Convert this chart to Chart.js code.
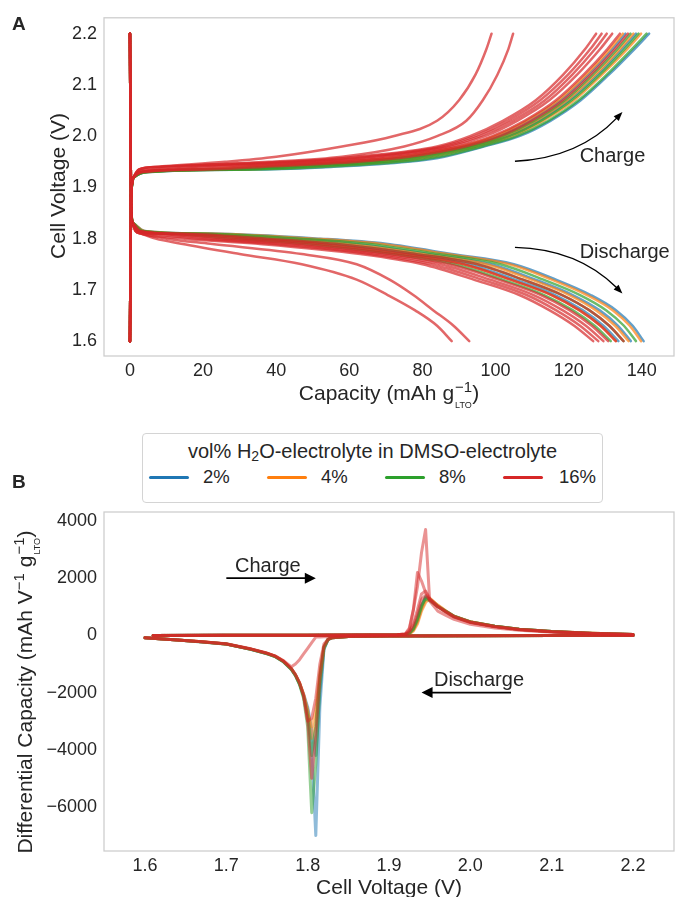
<!DOCTYPE html>
<html><head><meta charset="utf-8">
<script src="https://cdn.jsdelivr.net/npm/chart.js@4.4.1/dist/chart.umd.min.js"></script>
<style>
html,body{margin:0;padding:0;background:#fff;}
body{width:675px;height:897px;position:relative;overflow:hidden;font-family:"Liberation Sans",Arial,sans-serif;color:#262626;}
#wa{position:absolute;left:0;top:0;width:675px;height:460px;}
#wb{position:absolute;left:0;top:460px;width:675px;height:437px;}
#legend{position:absolute;left:142px;top:433px;width:461px;height:70px;border:1px solid #d4d4d4;border-radius:4px;background:#fff;box-sizing:border-box;z-index:3;}
.lt{position:absolute;white-space:nowrap;line-height:1;}
.ll{position:absolute;height:3px;border-radius:1.5px;}
</style></head>
<body>
<div id="wa"><canvas id="ca"></canvas></div>
<div id="wb"><canvas id="cb"></canvas></div>
<div id="legend"></div>
<script>
const FAM = '"Liberation Sans", Arial, sans-serif';
const TXT = '#262626';

const groups = ['2%', '4%', '8%', '16%'];
const colors = ['#1f77b4', '#ff7f0e', '#2ca02c', '#d62728'];
const legendTitle = 'vol% H<sub style="font-size:14px;vertical-align:-3px">2</sub>O-electrolyte in DMSO-electrolyte';

// ---------- Panel A: voltage profiles ----------
const xTicksA = [0, 20, 40, 60, 80, 100, 120, 140];
const yTicksA = [1.6, 1.7, 1.8, 1.9, 2.0, 2.1, 2.2];

const chargeVoltage = [1.60, 1.88, 1.92, 1.93, 1.935, 1.94, 1.95, 1.96, 1.98, 2.00, 2.03, 2.07, 2.12, 2.17, 2.20];
const chargeCap2 = [
  [0, 0.3, 1.2, 5, 35, 55, 76, 86, 97, 106.5, 115, 123.3, 131, 138, 142],
  [0, 0.3, 1.2, 4.2, 27, 43, 67.5, 80, 93.8, 103.2, 111.8, 120.2, 127.9, 134.6, 138.4],
  [0, 0.3, 1.1, 3.6, 20.4, 33.9, 60.7, 75.2, 91.2, 100.5, 109.2, 117.8, 125.4, 132, 135.5]
];
const chargeCap4 = [
  [0, 0.3, 1.2, 4.5, 30.1, 48, 70.9, 82.4, 95, 104.5, 113, 121.5, 129.1, 136, 139.8],
  [0, 0.3, 1.1, 4, 25.3, 40.9, 65.8, 78.8, 93.1, 102.5, 111.1, 119.6, 127.3, 134, 137.7],
  [0, 0.3, 1.1, 3.4, 18.8, 31.5, 59, 74, 90.5, 99.8, 108.5, 117.2, 124.8, 131.3, 134.8]
];
const chargeCap8 = [
  [0, 0.3, 1.2, 4.8, 33.4, 52.7, 74.3, 84.8, 96.4, 105.8, 114.4, 122.7, 130.4, 137.3, 141.3],
  [0, 0.3, 1.2, 4.4, 28.5, 45.6, 69.2, 81.2, 94.4, 103.8, 112.4, 120.8, 128.5, 135.3, 139.1],
  [0, 0.3, 1.1, 3.9, 23.6, 38.5, 64.1, 77.6, 92.5, 101.8, 110.5, 119, 126.6, 133.3, 136.9]
];
const chargeCap16 = [
  [0, 0.3, 1.1, 3.7, 22, 36.2, 62.4, 76.4, 91.8, 101.1, 109.8, 118.4, 126, 132.6, 136.2],
  [0, 0.3, 1.1, 3.2, 17.1, 29.2, 57.3, 72.8, 89.9, 99.1, 107.9, 116.5, 124.1, 130.6, 134],
  [0, 0.3, 1.1, 2.8, 12.3, 22.1, 52.2, 69.2, 87.9, 97.1, 105.9, 114.7, 122.3, 128.6, 131.9],
  [0, 0.3, 1.0, 2.4, 9, 17.4, 48.8, 66.8, 86.6, 95.7, 104.6, 113.5, 121, 127.2, 130.4],
  [0, 0.3, 1.0, 2.1, 5.8, 12.7, 45.4, 64.4, 85.3, 94.4, 103.3, 112.2, 119.8, 125.9, 129],
  [0, 0.3, 1.0, 1.8, 2.5, 8, 42, 62, 84, 93, 102, 111, 118.5, 124.5, 127.5],
  [0, 0.3, 1.0, 1.8, 2.5, 7, 26, 40, 58, 72, 84, 90, 94.5, 97.5, 98.9],
  [0, 0.3, 1.0, 1.8, 2.5, 8, 38, 58, 75, 84, 92, 96.5, 100.5, 103.5, 104.8]
];

const dischargeVoltage = [2.20, 1.86, 1.83, 1.815, 1.81, 1.80, 1.79, 1.77, 1.75, 1.72, 1.69, 1.66, 1.63, 1.60];
const dischargeCap2 = [
  [0, 0.3, 1.0, 4, 22, 52, 70, 88, 105, 116.5, 126, 133, 137.5, 140.5],
  [0, 0.3, 0.9, 3.4, 17.3, 42.8, 61.3, 81.8, 98.8, 110.9, 121.1, 128.5, 133.5, 137],
  [0, 0.3, 0.9, 2.8, 12.5, 33.5, 52.5, 75.5, 92.5, 105.3, 116.3, 123.9, 129.5, 133.6]
];
const dischargeCap4 = [
  [0, 0.3, 1.0, 3.9, 21, 50.2, 68.3, 86.8, 103.8, 115.4, 125, 132.1, 136.7, 139.8],
  [0, 0.3, 0.9, 3.3, 16.3, 40.9, 59.5, 80.5, 97.5, 109.8, 120.2, 127.5, 132.7, 136.4],
  [0, 0.3, 0.8, 2.6, 11.6, 31.7, 50.8, 74.3, 91.3, 104.1, 115.3, 123, 128.7, 132.9]
];
const dischargeCap8 = [
  [0, 0.3, 1.0, 3.6, 19.2, 46.5, 64.8, 84.3, 101.3, 113.1, 123.1, 130.3, 135.1, 138.4],
  [0, 0.3, 0.9, 3, 14.4, 37.2, 56, 78, 95, 107.5, 118.2, 125.7, 131.1, 135],
  [0, 0.3, 0.8, 2.4, 9.7, 28, 47.3, 71.8, 88.8, 101.9, 113.3, 121.2, 127.1, 131.5]
];
const dischargeCap16 = [
  [0, 0.3, 0.7, 1.5, 3, 15, 35, 63, 80, 94, 106.5, 114.8, 121.5, 126.7],
  [0, 0.3, 0.7, 1.8, 4.9, 18.7, 38.5, 65.5, 82.5, 96.3, 108.5, 116.6, 123.1, 128.1],
  [0, 0.3, 0.8, 2, 6.8, 22.4, 42, 68, 85, 98.5, 110.4, 118.4, 124.7, 129.5],
  [0, 0.3, 0.8, 2.3, 8.7, 26.1, 45.5, 70.5, 87.5, 100.8, 112.4, 120.3, 126.3, 130.8],
  [0, 0.3, 0.8, 2.6, 11.6, 31.7, 50.8, 74.3, 91.3, 104.1, 115.3, 123, 128.7, 132.9],
  [0, 0.3, 0.9, 3, 14.4, 37.2, 56, 78, 95, 107.5, 118.2, 125.7, 131.1, 135],
  [0, 0.3, 0.7, 1.5, 3, 7, 14, 30, 47, 62, 70.5, 78, 84, 88],
  [0, 0.3, 0.7, 1.5, 3, 10, 22, 47, 62, 71, 77.5, 83, 88.5, 92.8]
];

// ---------- Panel B: differential capacity ----------
const xTicksB = [1.6, 1.7, 1.8, 1.9, 2.0, 2.1, 2.2];
const yTicksB = [-6000, -4000, -2000, 0, 2000, 4000];

const dqChargeVoltage = [1.61, 1.70, 1.80, 1.88, 1.91, 1.92, 1.925, 1.93, 1.935, 1.94, 1.945, 1.95, 1.96, 1.97, 1.98, 2.00, 2.03, 2.06, 2.10, 2.15, 2.20];
const dqCharge2 = [
  [0, 2, 5, 10, 15, 30, 75, 240, 580, 1050, 1350, 1250, 1020, 840, 665, 470, 318, 214, 134, 70, 30],
  [0, 2, 5, 10, 15, 28, 65, 200, 500, 950, 1300, 1280, 1040, 845, 668, 472, 319, 214, 134, 70, 30]
];
const dqCharge4 = [
  [0, 2, 5, 10, 15, 25, 60, 180, 450, 900, 1200, 1300, 1050, 850, 670, 475, 320, 215, 135, 72, 30],
  [0, 2, 5, 10, 15, 22, 50, 150, 400, 850, 1150, 1280, 1060, 855, 672, 476, 321, 216, 135, 72, 30]
];
const dqCharge8 = [
  [0, 2, 5, 10, 15, 30, 80, 250, 600, 1050, 1280, 1220, 1000, 830, 660, 470, 320, 215, 135, 72, 30],
  [0, 2, 5, 10, 15, 28, 70, 220, 550, 1000, 1350, 1250, 1010, 835, 665, 470, 318, 214, 134, 70, 30]
];
const dqCharge16 = [
  [0, 2, 5, 10, 20, 40, 110, 350, 750, 1250, 1400, 1250, 1000, 820, 650, 460, 310, 210, 130, 70, 30],
  [0, 2, 5, 10, 20, 45, 130, 420, 900, 1450, 1550, 1300, 1020, 830, 660, 465, 315, 215, 135, 72, 30],
  [0, 2, 5, 10, 20, 50, 200, 900, 2200, 1900, 1500, 1250, 1000, 810, 640, 450, 300, 200, 125, 65, 28],
  [0, 2, 5, 10, 20, 50, 250, 900, 1700, 2900, 3700, 1200, 850, 700, 560, 390, 260, 180, 110, 60, 25]
];

const dqDischargeVoltage = [2.20, 2.10, 2.00, 1.90, 1.85, 1.83, 1.825, 1.82, 1.815, 1.81, 1.805, 1.80, 1.795, 1.79, 1.785, 1.78, 1.77, 1.76, 1.75, 1.73, 1.70, 1.67, 1.64, 1.60];
const dqDischarge2 = [
  [0, -5, -10, -20, -40, -80, -150, -500, -2500, -7000, -4000, -2600, -2100, -1700, -1400, -1190, -915, -740, -640, -488, -305, -228, -162, -86],
  [0, -5, -10, -20, -40, -80, -150, -450, -2000, -4200, -3300, -2500, -2050, -1680, -1390, -1180, -910, -735, -635, -485, -303, -227, -161, -86]
];
const dqDischarge4 = [
  [0, -5, -10, -20, -40, -80, -140, -420, -1500, -3000, -3600, -2600, -2050, -1660, -1380, -1170, -900, -730, -630, -480, -300, -225, -160, -85],
  [0, -5, -10, -20, -40, -80, -140, -400, -1300, -2600, -3200, -2700, -2080, -1670, -1385, -1175, -905, -732, -632, -482, -301, -226, -160, -85]
];
const dqDischarge8 = [
  [0, -5, -10, -20, -40, -80, -150, -450, -1800, -4500, -6200, -3200, -2200, -1720, -1410, -1195, -920, -745, -642, -490, -306, -229, -163, -87],
  [0, -5, -10, -20, -40, -80, -140, -400, -1400, -3200, -4200, -2800, -2150, -1700, -1400, -1185, -912, -738, -637, -486, -304, -227, -161, -86]
];
const dqDischarge16 = [
  [0, -5, -10, -20, -40, -80, -150, -400, -1500, -3500, -5000, -3000, -2100, -1650, -1370, -1160, -895, -725, -625, -476, -298, -223, -158, -84],
  [0, -5, -10, -20, -40, -80, -130, -300, -1000, -2200, -2900, -3000, -2100, -1660, -1375, -1165, -898, -728, -628, -478, -299, -224, -159, -84],
  [0, -5, -10, -20, -30, -40, -45, -50, -55, -60, -250, -450, -650, -850, -1000, -1100, -880, -715, -618, -470, -295, -221, -157, -83]
];

// ---------- helpers ----------
function rgba(hex, a) {
  const n = parseInt(hex.slice(1), 16);
  return `rgba(${(n >> 16) & 255},${(n >> 8) & 255},${n & 255},${a})`;
}
function lineSet(xs, ys, color, alpha, width, smooth) {
  return {
    data: xs.map((x, i) => ({ x: x, y: ys[i] })),
    borderColor: rgba(color, alpha), borderWidth: width,
    pointRadius: 0, fill: false, tension: 0,
    cubicInterpolationMode: smooth ? 'monotone' : 'default',
    borderCapStyle: 'round', borderJoinStyle: 'round'
  };
}

function drawRich(ctx, parts, cx, by, size) {
  const fm = size + 'px ' + FAM, fs = Math.round(size * 0.7) + 'px ' + FAM, fb = Math.round(size * 0.45) + 'px ' + FAM;
  const ws = parts.map(p => {
    if (p.stack) { ctx.font = fs; const a = ctx.measureText(p.sup).width; ctx.font = fb; const b = ctx.measureText(p.sub).width; return Math.max(a, b) + 1; }
    if (p.sup) { ctx.font = fs; return ctx.measureText(p.sup).width; }
    ctx.font = fm; return ctx.measureText(p.t).width;
  });
  let x = cx - ws.reduce((s, v) => s + v, 0) / 2;
  ctx.textAlign = 'left'; ctx.textBaseline = 'alphabetic';
  parts.forEach((p, i) => {
    if (p.stack) {
      ctx.font = fs; ctx.fillText(p.sup, x + 1, by - size * 0.36);
      ctx.font = fb; ctx.fillText(p.sub, x + 1, by + size * 0.4);
    } else if (p.sup) {
      ctx.font = fs; ctx.fillText(p.sup, x, by - size * 0.36);
    } else { ctx.font = fm; ctx.fillText(p.t, x, by); }
    x += ws[i];
  });
}

function drawArrow(ctx, p0, p1, rad, lw, hl, hw) {
  const mx = (p0.x + p1.x) / 2, my = (p0.y + p1.y) / 2, dx = p1.x - p0.x, dy = p1.y - p0.y;
  const cx = mx - rad * dy, cy = my + rad * dx;
  let tx = p1.x - cx, ty = p1.y - cy; const tl = Math.hypot(tx, ty); tx /= tl; ty /= tl;
  const bx = p1.x - tx * hl, by = p1.y - ty * hl;
  ctx.strokeStyle = '#000'; ctx.fillStyle = '#000'; ctx.lineWidth = lw;
  ctx.beginPath(); ctx.moveTo(p0.x, p0.y); ctx.quadraticCurveTo(cx, cy, bx + tx, by + ty); ctx.stroke();
  ctx.beginPath(); ctx.moveTo(p1.x, p1.y);
  ctx.lineTo(bx - ty * hw / 2, by + tx * hw / 2);
  ctx.lineTo(bx + ty * hw / 2, by - tx * hw / 2);
  ctx.closePath(); ctx.fill();
}

function makeDeco(cfg) {
  return {
    id: 'deco',
    afterDatasetsDraw(chart) {
      const ctx = chart.ctx, xs = chart.scales.x, ys = chart.scales.y, a = chart.chartArea;
      ctx.save();
      ctx.strokeStyle = '#cccccc'; ctx.lineWidth = 1.25;
      ctx.strokeRect(a.left, a.top, a.right - a.left, a.bottom - a.top);
      ctx.fillStyle = TXT; ctx.font = '20px ' + FAM; ctx.textAlign = 'left'; ctx.textBaseline = 'alphabetic';
      cfg.texts.forEach(t => ctx.fillText(t.text, xs.getPixelForValue(t.x), ys.getPixelForValue(t.y)));
      cfg.arrows.forEach(r => drawArrow(ctx,
        { x: xs.getPixelForValue(r.from[0]), y: ys.getPixelForValue(r.from[1]) },
        { x: xs.getPixelForValue(r.to[0]), y: ys.getPixelForValue(r.to[1]) }, r.rad, r.lw, r.hl, r.hw));
      ctx.fillStyle = TXT; ctx.font = 'bold 19px ' + FAM; ctx.textAlign = 'left';
      ctx.fillText(cfg.panel, 12, cfg.panelY);
      ctx.fillStyle = TXT;
      drawRich(ctx, cfg.xTitle, (a.left + a.right) / 2, cfg.xTitleY, 21);
      ctx.translate(cfg.yTitleX, cfg.yTitleC);
      ctx.rotate(-Math.PI / 2);
      drawRich(ctx, cfg.yTitle, 0, 0, 21);
      ctx.restore();
    }
  };
}

function axis(min, max, ticks, fmt, side, size) {
  return {
    type: 'linear', min: min, max: max,
    grid: { display: false, drawTicks: false }, border: { display: false },
    afterBuildTicks: s => { s.ticks = ticks.map(v => ({ value: v })); },
    afterFit: s => { if (side === 'x') s.height = size; else s.width = size; },
    ticks: { color: TXT, font: { family: FAM, size: 18 }, padding: side === 'x' ? 4 : 7,
             autoSkip: false, maxRotation: 0, callback: fmt }
  };
}

// ---------- Chart A ----------
const dsA = [];
const chargeA = [chargeCap2, chargeCap4, chargeCap8, chargeCap16];
const dischargeA = [dischargeCap2, dischargeCap4, dischargeCap8, dischargeCap16];
for (let g = 3; g >= 0; g--) {
  chargeA[g].forEach(c => dsA.push(lineSet(c, chargeVoltage, colors[g], 0.7, 2.5, true)));
  dischargeA[g].forEach(c => dsA.push(lineSet(c, dischargeVoltage, colors[g], 0.7, 2.5, true)));
}
new Chart(document.getElementById('ca'), {
  type: 'line',
  data: { datasets: dsA },
  options: {
    responsive: true, maintainAspectRatio: false, animation: false, events: [],
    layout: { padding: { top: 16, right: 1, left: 0, bottom: 0 } },
    plugins: { legend: { display: false }, tooltip: { enabled: false } },
    scales: {
      x: axis(-7.1, 148.8, xTicksA, v => String(v), 'x', 104),
      y: axis(1.571, 2.231, yTicksA, v => v.toFixed(1), 'y', 104)
    }
  },
  plugins: [makeDeco({
    panel: 'A', panelY: 30,
    texts: [{ text: 'Charge', x: 123, y: 1.9495 }, { text: 'Discharge', x: 123, y: 1.762 }],
    arrows: [
      { from: [105.3, 1.951], to: [134.7, 2.047], rad: 0.2, lw: 1.4, hl: 9, hw: 7 },
      { from: [105.3, 1.783], to: [134.7, 1.693], rad: -0.2, lw: 1.4, hl: 9, hw: 7 }
    ],
    xTitle: [{ t: 'Capacity (mAh g' }, { stack: true, sup: '\u22121', sub: 'LTO' }, { t: ')' }],
    xTitleY: 400,
    yTitle: [{ t: 'Cell Voltage (V)' }],
    yTitleX: 65, yTitleC: 186
  })]
});

// ---------- Chart B ----------
const dsB = [];
const chargeB = [dqCharge2, dqCharge4, dqCharge8, dqCharge16];
const dischargeB = [dqDischarge2, dqDischarge4, dqDischarge8, dqDischarge16];
for (let g = 3; g >= 0; g--) {
  chargeB[g].forEach(c => dsB.push(lineSet(dqChargeVoltage, c, colors[g], 0.5, 3, false)));
  dischargeB[g].forEach(c => dsB.push(lineSet(dqDischargeVoltage, c, colors[g], 0.5, 3, false)));
}
new Chart(document.getElementById('cb'), {
  type: 'line',
  data: { datasets: dsB },
  options: {
    responsive: true, maintainAspectRatio: false, animation: false, events: [],
    layout: { padding: { top: 52, right: 1, left: 0, bottom: 0 } },
    plugins: { legend: { display: false }, tooltip: { enabled: false } },
    scales: {
      x: axis(1.5496, 2.2504, xTicksB, v => v.toFixed(1), 'x', 46),
      y: axis(-7540, 4315, yTicksB, v => (v < 0 ? '\u2212' : '') + Math.abs(v), 'y', 104)
    }
  },
  plugins: [makeDeco({
    panel: 'B', panelY: 28,
    texts: [{ text: 'Charge', x: 1.7107, y: 2203 }, { text: 'Discharge', x: 1.9553, y: -1783 }],
    arrows: [
      { from: [1.70, 2000], to: [1.81, 2000], rad: 0, lw: 1.8, hl: 11, hw: 11 },
      { from: [2.05, -2000], to: [1.94, -2000], rad: 0, lw: 1.8, hl: 11, hw: 11 }
    ],
    xTitle: [{ t: 'Cell Voltage (V)' }],
    xTitleY: 434,
    yTitle: [{ t: 'Differential Capacity (mAh V' }, { sup: '\u22121' }, { t: ' g' }, { stack: true, sup: '\u22121', sub: 'LTO' }, { t: ')' }],
    yTitleX: 32, yTitleC: 232
  })]
});

// ---------- Legend (HTML) ----------
(function () {
  const L = document.getElementById('legend');
  const t = document.createElement('div');
  t.className = 'lt'; t.style.fontSize = '20px'; t.style.left = '0'; t.style.width = '459px';
  t.style.textAlign = 'center'; t.style.top = '7px'; t.innerHTML = legendTitle;
  L.appendChild(t);
  const lineX = [6, 124, 242, 360], textX = [60, 178, 296, 416];
  groups.forEach((g, i) => {
    const l = document.createElement('div'); l.className = 'll';
    l.style.left = lineX[i] + 'px'; l.style.top = '42px'; l.style.width = '40px'; l.style.background = colors[i];
    L.appendChild(l);
    const s = document.createElement('div'); s.className = 'lt'; s.style.fontSize = '18.5px';
    s.style.left = textX[i] + 'px'; s.style.top = '34px'; s.textContent = g;
    L.appendChild(s);
  });
})();
</script>
</body></html>
